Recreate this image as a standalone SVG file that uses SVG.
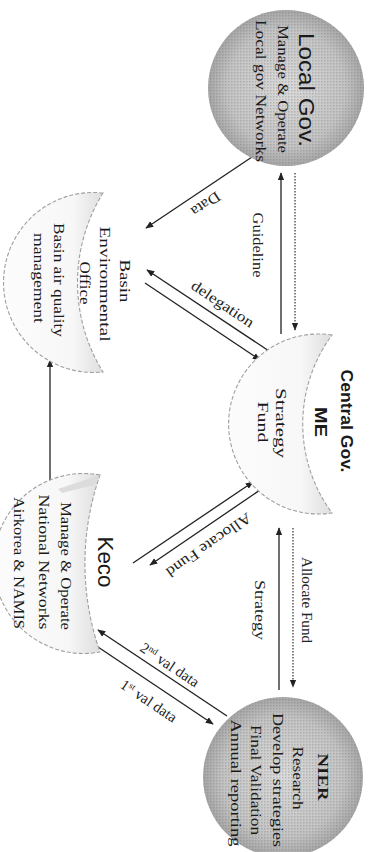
<svg xmlns="http://www.w3.org/2000/svg" width="373" height="852" viewBox="0 0 373 852">
<style>
.lbl{font-family:"Liberation Serif","Times New Roman",serif;font-size:15px;fill:#222}
.sub{font-family:"Liberation Serif","Times New Roman",serif;font-size:15px;fill:#1a1a1a}
.ttl{font-family:"Liberation Sans",Arial,sans-serif;font-size:22px;fill:#1a1a1a}
.ttlb{font-family:"Liberation Sans",Arial,sans-serif;font-size:16px;font-weight:bold;fill:#1a1a1a}
.ln{stroke:#222;stroke-width:1.3;fill:none}
.dot{stroke:#333;stroke-width:1.2;fill:none;stroke-dasharray:1.5 1.5}
.cres{stroke:#a0a0a0;stroke-width:1.1;stroke-dasharray:4 2}
</style>
<defs>
<marker id="ah" viewBox="0 0 10 10" refX="9" refY="5" markerWidth="8" markerHeight="8" orient="auto" markerUnits="userSpaceOnUse">
<path d="M0,1 L10,5 L0,9 z" fill="#222"/>
</marker>
<radialGradient id="ball" cx="50%" cy="50%" r="50%">
<stop offset="0" stop-color="#dadada"/>
<stop offset="0.75" stop-color="#c4c4c4"/>
<stop offset="1" stop-color="#a6a6a6"/>
</radialGradient>
<pattern id="dots" width="3" height="3" patternUnits="userSpaceOnUse">
<rect x="0" y="0" width="1.5" height="1.5" fill="#6a6a6a"/>
</pattern>
<linearGradient id="hornG" x1="1" y1="0" x2="0" y2="0">
<stop offset="0" stop-color="#dedede"/>
<stop offset="0.3" stop-color="#f7f7f7"/>
<stop offset="1" stop-color="#fcfcfc"/>
</linearGradient>
</defs>
<rect width="373" height="852" fill="#ffffff"/>

<g id="connectors">
<line class="ln" x1="252" y1="157" x2="146" y2="228" marker-end="url(#ah)"/>
<text class="lbl" transform="translate(203,200) rotate(146)" text-anchor="middle" textLength="32" lengthAdjust="spacingAndGlyphs">Data</text>
<line class="ln" x1="281" y1="334" x2="281" y2="173" marker-end="url(#ah)"/>
<line class="dot" x1="295" y1="173" x2="295" y2="330" marker-end="url(#ah)"/>
<text class="lbl" transform="translate(253,245) rotate(90)" text-anchor="middle" textLength="65" lengthAdjust="spacingAndGlyphs">Guideline</text>
<line class="ln" x1="272" y1="353" x2="147" y2="270" marker-end="url(#ah)"/>
<line class="ln" x1="145" y1="283" x2="260" y2="360" marker-end="url(#ah)"/>
<text class="lbl" transform="translate(220,308) rotate(33.6)" text-anchor="middle" textLength="72" lengthAdjust="spacingAndGlyphs">delegation</text>
<line class="ln" x1="50" y1="487" x2="50" y2="360" marker-end="url(#ah)"/>
<line class="ln" x1="133" y1="563" x2="253" y2="482" marker-end="url(#ah)"/>
<line class="ln" x1="263" y1="488" x2="150" y2="565" marker-end="url(#ah)"/>
<text class="lbl" transform="translate(206,541) rotate(145)" text-anchor="middle" textLength="100" lengthAdjust="spacingAndGlyphs">Allocate Fund</text>
<line class="ln" x1="279" y1="690" x2="279" y2="528" marker-end="url(#ah)"/>
<line class="dot" x1="293" y1="528" x2="293" y2="687" marker-end="url(#ah)"/>
<text class="lbl" transform="translate(255,610) rotate(90)" text-anchor="middle" textLength="60" lengthAdjust="spacingAndGlyphs">Strategy</text>
<text class="lbl" transform="translate(302,600) rotate(90)" text-anchor="middle" textLength="86" lengthAdjust="spacingAndGlyphs">Allocate Fund</text>
<line class="ln" x1="227" y1="716" x2="98" y2="630" marker-end="url(#ah)"/>
<line class="ln" x1="92" y1="643" x2="213" y2="724" marker-end="url(#ah)"/>
<text class="lbl" transform="translate(167,669) rotate(34)" text-anchor="middle">2<tspan font-size="9" dy="-5">nd</tspan><tspan dy="5"> val data</tspan></text>
<text class="lbl" transform="translate(146,705) rotate(34)" text-anchor="middle">1<tspan font-size="9" dy="-5">st</tspan><tspan dy="5"> val data</tspan></text>
</g>

<g id="local-gov">
<circle cx="286" cy="88" r="78" fill="url(#ball)"/>
<circle cx="286" cy="88" r="78" fill="url(#dots)" opacity="0.3"/>
<text class="ttl" transform="translate(299,90) rotate(90)" text-anchor="middle" textLength="114" lengthAdjust="spacingAndGlyphs">Local Gov.</text>
<text class="sub" transform="translate(278,89) rotate(90)" text-anchor="middle" textLength="128" lengthAdjust="spacingAndGlyphs">Manage &amp; Operate</text>
<text class="sub" transform="translate(256,91) rotate(90)" text-anchor="middle" textLength="142" lengthAdjust="spacingAndGlyphs">Local gov Networks</text>
</g>

<g id="central-gov">
<path class="cres" d="M332,335 A90,90 0 1 0 332,513 A150,150 0 0 1 332,335 Z" fill="url(#hornG)"/>
<text class="ttlb" transform="translate(341,421) rotate(90)" text-anchor="middle" textLength="103" lengthAdjust="spacingAndGlyphs">Central Gov.</text>
<text class="ttlb" transform="translate(315,422) rotate(90)" text-anchor="middle" font-size="20" textLength="30" lengthAdjust="spacingAndGlyphs">ME</text>
<text class="sub" transform="translate(276,423) rotate(90)" text-anchor="middle" font-size="16" textLength="70" lengthAdjust="spacingAndGlyphs">Strategy</text>
<text class="sub" transform="translate(258,422) rotate(90)" text-anchor="middle" font-size="16" textLength="41" lengthAdjust="spacingAndGlyphs">Fund</text>
</g>

<g id="basin">
<path class="cres" d="M103,193 A90,90 0 1 0 103,372 A170,170 0 0 1 103,193 Z" fill="url(#hornG)"/>
<text class="sub" transform="translate(120,281) rotate(90)" text-anchor="middle" font-size="17" textLength="43" lengthAdjust="spacingAndGlyphs">Basin</text>
<text class="sub" transform="translate(100,284) rotate(90)" text-anchor="middle" font-size="17" textLength="115" lengthAdjust="spacingAndGlyphs">Environmental</text>
<text class="sub" transform="translate(80,283) rotate(90)" text-anchor="middle" font-size="17" textLength="43" lengthAdjust="spacingAndGlyphs">Office</text>
<text class="sub" transform="translate(54,280) rotate(90)" text-anchor="middle" textLength="114" lengthAdjust="spacingAndGlyphs">Basin air quality</text>
<text class="sub" transform="translate(34,278) rotate(90)" text-anchor="middle" textLength="90" lengthAdjust="spacingAndGlyphs">management</text>
</g>

<g id="keco">
<path class="cres" d="M100,475 A90,90 0 1 0 100,652 A268,268 0 0 1 100,475 Z" fill="url(#hornG)"/>
<path d="M58,489 L100,475 L94,485 L62,493 Z" fill="#dcdcdc"/>
<text class="ttl" transform="translate(98,562) rotate(90)" text-anchor="middle" textLength="51" lengthAdjust="spacingAndGlyphs">Keco</text>
<text class="sub" transform="translate(61,566) rotate(90)" text-anchor="middle" textLength="128" lengthAdjust="spacingAndGlyphs">Manage &amp; Operate</text>
<text class="sub" transform="translate(39,562) rotate(90)" text-anchor="middle" textLength="135" lengthAdjust="spacingAndGlyphs">National Networks</text>
<text class="sub" transform="translate(14,563) rotate(90)" text-anchor="middle" textLength="132" lengthAdjust="spacingAndGlyphs">Airkorea &amp; NAMIS</text>
</g>

<g id="nier">
<circle cx="283" cy="777" r="80" fill="url(#ball)"/>
<circle cx="283" cy="777" r="80" fill="url(#dots)" opacity="0.3"/>
<text class="sub" transform="translate(318,777) rotate(90)" text-anchor="middle" font-size="19" font-weight="bold" textLength="47" lengthAdjust="spacingAndGlyphs">NIER</text>
<text class="sub" transform="translate(293,778) rotate(90)" text-anchor="middle" textLength="63" lengthAdjust="spacingAndGlyphs">Research</text>
<text class="sub" transform="translate(273,780) rotate(90)" text-anchor="middle" textLength="134" lengthAdjust="spacingAndGlyphs">Develop strategies</text>
<text class="sub" transform="translate(251,780) rotate(90)" text-anchor="middle" textLength="110" lengthAdjust="spacingAndGlyphs">Final Validation</text>
<text class="sub" transform="translate(231,783) rotate(90)" text-anchor="middle" textLength="127" lengthAdjust="spacingAndGlyphs">Annual reporting</text>
</g>
</svg>
